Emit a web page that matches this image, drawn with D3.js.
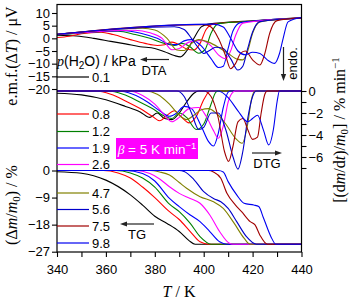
<!DOCTYPE html>
<html><head><meta charset="utf-8">
<script src="https://cdn.jsdelivr.net/npm/d3@7"></script>
<style>
body{margin:0;background:#fff}
svg text{font-family:"Liberation Sans",Arial,sans-serif;fill:#000}
.serif{font-family:"Liberation Serif","Times New Roman",serif}
</style></head><body>
<script>
// water vapour pressures (kPa) and line colours
var pressures = ['0.1','0.8','1.2','1.9','2.6','4.7','5.6','7.5','9.8'];
var colors = ['#000000','#ff0000','#008000','#0000ff','#ff00ff','#808000','#0000cc','#a00000','#0000f0'];

// DTA, e.m.f. / uV
var dta01 = [[340,1.2],[348,0.9],[355,0],[362,-1.2],[368,-2.2],[374,-3.3],[380,-4.0],[384,-5.3],[388,-6.8],[390.5,-7.3],[393,-5],[396,0],[399,4.5],[402,5.6],[420,6.9],[440,8.2]];
var dta08 = [[340,0.3],[345,0.8],[350,1.8],[358,2.4],[363,1.5],[370,-0.5],[376,-2],[381,-2.8],[384,-2.5],[387,-1.5],[390,-2.5],[393,-4.2],[396,-4.6],[398.5,-2],[401,3.5],[404,5.6],[420,6.8],[440,8.1]];
var dta12 = [[340,1.3],[365,2.8],[372,1.5],[378,0],[384,-2.0],[388,-2.8],[391,-2.0],[394,-3.0],[398,-5.9],[400.5,-4.5],[403,2],[406,5.8],[420,6.8],[440,8]];
var dta19 = [[340,1.4],[368,3.0],[375,1.8],[381,0],[386,-2.3],[389,-2.5],[392,-1.0],[395,-0.5],[399,-3],[403,-8],[406,-11.5],[408,-11],[410,-4],[412,3],[415,6.2],[440,8]];
var dta26 = [[340,1.5],[372,3.2],[378,2.2],[383,0],[387,-4.5],[390,-4.0],[394,-1.5],[399,-0.8],[403,-3],[406,-6.5],[409,-8],[411,-5],[413,1],[416,6],[440,8]];
var dta47 = [[340,1.6],[375,4],[380,3.3],[385,0],[389,-4.6],[392,-4.8],[395,-2],[398,-0.5],[402,-1.5],[406,-3.5],[410,-6],[414,-8.3],[416,-8.5],[418,-5],[420,2],[423,6.5],[440,8]];
var dta56 = [[340,1.6],[388,4.6],[392,3.5],[395,0],[398,-4],[400,-6],[402,-5],[405,-3.5],[408,-4],[411,-8],[414,-12.5],[416,-11],[418,-4],[420,2.5],[423,6.6],[440,8]];
var dta75 = [[340,1.6],[400,5.4],[403,4.5],[406,0],[409,-7],[411,-12],[413,-10],[415,-6],[417,-5],[420,-8.5],[423,-10.5],[425,-6],[427,2],[430,7],[440,8]];
var dta98 = [[340,1.6],[404,5.6],[408,4.5],[411,0],[414,-5],[417,-6.5],[420,-5.5],[423,-6],[426,-8.5],[429,-9.9],[431,-6],[432.5,0],[434.5,6.5],[440,8.2]];

// DTG, % min-1
var dtg01 = [[340,-0.2],[350,-0.35],[360,-0.8],[368,-1.4],[374,-1.9],[378,-2.4],[381,-2.0],[384,-2.5],[387,-2.6],[390,-2.0],[393,-1.0],[396,-0.2],[398,0],[440,0]];
var dtg08 = [[340,0],[356,0],[362,-0.3],[368,-0.9],[374,-1.6],[379,-2.3],[382,-2.7],[385,-2.2],[388,-1.8],[391,-2.4],[394,-2.9],[397,-2.3],[400,-0.8],[402,-0.1],[403,0],[440,0]];
var dtg12 = [[340,0],[361,0],[367,-0.3],[373,-0.9],[379,-1.6],[384,-2.3],[387,-2.5],[390,-2.0],[393,-2.4],[397,-3.5],[400,-3.0],[403,-1.2],[405,-0.1],[406,0],[440,0]];
var dtg19 = [[340,0],[365,0],[371,-0.3],[377,-1.0],[382,-1.8],[386,-2.3],[389,-2.0],[392,-1.4],[395,-1.6],[399,-3.2],[402,-4.6],[404,-5.0],[406,-3.8],[408,-1.5],[410,-0.1],[411,0],[440,0]];
var dtg26 = [[340,0],[369,0],[375,-0.4],[380,-1.2],[384,-2.2],[387,-2.8],[390,-2.4],[394,-1.6],[398,-1.5],[401,-2.3],[404,-3.6],[406,-4.3],[408,-3.2],[410,-1.0],[412,-0.1],[413,0],[440,0]];
var dtg47 = [[340,0],[376,0],[381,-0.3],[386,-1.2],[390,-2.2],[393,-2.6],[396,-2.2],[399,-1.7],[402,-1.6],[405,-2.0],[409,-3.0],[413,-4.3],[415.7,-4.75],[418,-3.0],[419.5,-0.8],[421,0],[440,0]];
var dtg56 = [[340,0],[389,0],[392,-0.5],[395,-2.0],[398,-3.5],[400,-3.3],[403,-2.0],[406,-2.0],[409,-3.5],[412,-6.0],[414,-7.1],[416,-5.5],[418,-2.5],[420,-0.5],[421.5,0],[440,0]];
var dtg75 = [[340,0],[400,0],[403,-0.5],[406,-2.5],[408.5,-5.5],[410.2,-6.4],[412,-5.0],[414,-2.8],[416,-2.5],[418,-3.5],[420,-4.4],[422,-4.2],[423.5,-2.0],[425,-0.3],[426,0],[440,0]];
var dtg98 = [[340,0],[406,0],[410,-0.6],[414,-1.8],[418,-2.8],[420,-2.5],[422,-2.2],[424.5,-3.6],[426.6,-4.9],[428.5,-3.5],[430,-1.0],[431,0],[440,0]];

// TG, mass change %
var tg01 = [[340,-0.4],[350,-0.9],[360,-3.2],[370,-8.1],[375,-11.5],[380,-15.2],[385,-17.6],[390,-20.3],[394,-23.3],[396.5,-24.5],[440,-24.5]];
var tg08 = [[340,0],[359,0],[365,-0.8],[370,-2.5],[375,-5.5],[380,-9],[386,-13.7],[390,-16.3],[394.5,-20.3],[398.5,-23.7],[402,-24.5],[440,-24.5]];
var tg12 = [[340,0],[364,0],[370,-0.8],[375,-2.5],[380,-5.5],[386,-11.2],[390,-13.7],[394.5,-17.6],[398.5,-22],[403,-24.5],[440,-24.5]];
var tg19 = [[340,0],[368,0],[375,-1],[380,-3.5],[386,-9.3],[390,-12],[394.5,-14.8],[398.5,-17],[402.5,-20.3],[406.5,-23.7],[409.5,-24.5],[440,-24.5]];
var tg26 = [[340,0],[372,0],[378,-1],[382,-2.8],[386,-5.4],[390,-7.6],[394.5,-9.3],[398.5,-10.9],[402.5,-14.8],[406.5,-20.3],[410.5,-24.2],[412,-24.5],[440,-24.5]];
var tg47 = [[340,0],[378,0],[382,-0.5],[386,-1.5],[390,-4],[393,-5.9],[398.5,-8.7],[404,-10.4],[408,-12.6],[412.5,-17.6],[416.5,-22.5],[419,-24.5],[440,-24.5]];
var tg56 = [[340,0],[390,0],[392,-0.3],[396,-3],[400,-7],[404,-9.3],[407,-10.4],[410,-12.6],[413.5,-17],[417.5,-22],[421.5,-24.5],[440,-24.5]];
var tg75 = [[340,0],[402,0],[404,-0.5],[407,-2.6],[409.5,-7.6],[413,-11.5],[415.5,-13.7],[419,-17],[421,-18.1],[423,-21.5],[426,-24.5],[440,-24.5]];
var tg98 = [[340,0],[406,0],[408,-0.5],[410,-3.7],[413.5,-8.1],[416.5,-10.9],[420.5,-11.5],[422.5,-12],[424.5,-15.9],[427.5,-22],[429.5,-24.5],[440,-24.5]];

var dtaSeries = [dta01,dta08,dta12,dta19,dta26,dta47,dta56,dta75,dta98];
var dtgSeries = [dtg01,dtg08,dtg12,dtg19,dtg26,dtg47,dtg56,dtg75,dtg98];
var tgSeries = [tg01,tg08,tg12,tg19,tg26,tg47,tg56,tg75,tg98];

var xTicks = [340,350,360,370,380,390,400,410,420,430,440];
var dtaTicks = [10,5,0,-5,-10,-15,-20];
var dtgTicks = [0,-1,-2,-3,-4,-5,-6,-7];
var tgTicks = [0,-9,-18,-27];

// legend row positions
var legendY = [77,114,131.5,148,164.5,193,209.5,226,243];

var svg = d3.select('body').append('svg').attr('width',352).attr('height',301);

var x = d3.scaleLinear().domain([340,440]).range([57,301.5]);
var yDTA = d3.scaleLinear().domain([-20,10]).range([89,13]);
var yDTG = d3.scaleLinear().domain([-6,0]).range([157,91]);
var yTG = d3.scaleLinear().domain([-27,0]).range([251.7,170.5]);

function drawSet(data, yScale){
  var line = d3.line().x(function(d){return x(d[0]);}).y(function(d){return yScale(d[1]);}).curve(d3.curveMonotoneX);
  svg.append('g').selectAll('path').data(data).enter().append('path')
    .attr('d',line).attr('fill','none')
    .attr('stroke',function(d,i){return colors[i];})
    .attr('stroke-width',1.1);
}
drawSet(dtaSeries,yDTA);
drawSet(dtgSeries,yDTG);
drawSet(tgSeries,yTG);

// frame
svg.append('rect').attr('x',57).attr('y',4.5).attr('width',244.5).attr('height',247.5)
  .attr('fill','none').attr('stroke','#000').attr('stroke-width',1.2);

function fmt(d){ return d<0 ? '\u2212'+(-d) : ''+d; }
function styleAxis(g){
  g.select('.domain').remove();
  g.selectAll('.tick line').attr('stroke','#000').attr('stroke-width',1.1);
  g.selectAll('.tick text').attr('font-size',13).style('font-family','"Liberation Sans",Arial,sans-serif');
}

svg.append('g').attr('transform','translate(0,252)')
  .call(d3.axisBottom(x).tickValues(xTicks).tickSize(5).tickPadding(8)
    .tickFormat(function(d){return d%20===0 ? d : '';}))
  .call(styleAxis);
svg.append('g').attr('transform','translate(57,0)')
  .call(d3.axisLeft(yDTA).tickValues(dtaTicks).tickSize(5).tickPadding(2).tickFormat(fmt))
  .call(styleAxis);
svg.append('g').attr('transform','translate(57,0)')
  .call(d3.axisLeft(yTG).tickValues(tgTicks).tickSize(5).tickPadding(2).tickFormat(fmt))
  .call(styleAxis);
svg.append('g').attr('transform','translate(301.5,0)')
  .call(d3.axisRight(yDTG).tickValues(dtgTicks).tickSize(5).tickPadding(2)
    .tickFormat(function(d){return d%2===0 ? fmt(d) : '';}))
  .call(styleAxis);

// axis titles
var t1 = svg.append('text').attr('class','serif').attr('font-size',16)
  .attr('text-anchor','middle').attr('transform','translate(17,56) rotate(-90)');
t1.append('tspan').text('e.m.f.(\u0394');
t1.append('tspan').attr('font-style','italic').text('T');
t1.append('tspan').text(') / \u03bcV');

var t2 = svg.append('text').attr('class','serif').attr('font-size',16)
  .attr('text-anchor','middle').attr('transform','translate(17,205) rotate(-90)');
t2.append('tspan').text('(\u0394');
t2.append('tspan').attr('font-style','italic').text('m');
t2.append('tspan').text('/');
t2.append('tspan').attr('font-style','italic').text('m');
t2.append('tspan').attr('font-size',11).attr('dy',3).text('0');
t2.append('tspan').attr('dy',-3).text(') / %');

var t3 = svg.append('text').attr('class','serif').attr('font-size',16)
  .attr('text-anchor','middle').attr('transform','translate(345,130) rotate(-90)');
t3.append('tspan').text('[(d');
t3.append('tspan').attr('font-style','italic').text('m');
t3.append('tspan').text('/d');
t3.append('tspan').attr('font-style','italic').text('t');
t3.append('tspan').text(')/');
t3.append('tspan').attr('font-style','italic').text('m');
t3.append('tspan').attr('font-size',11).attr('dy',3).text('0');
t3.append('tspan').attr('dy',-3).text('] / % min');
t3.append('tspan').attr('font-size',11).attr('dy',-6).text('\u22121');

var t4 = svg.append('text').attr('class','serif').attr('font-size',16)
  .attr('text-anchor','middle').attr('x',179).attr('y',297);
t4.append('tspan').attr('font-style','italic').text('T');
t4.append('tspan').text(' / K');

// legend
var lg = svg.append('text').attr('x',57).attr('y',65.5).attr('font-size',14);
lg.append('tspan').attr('class','serif').attr('font-style','italic').style('font-family','"Liberation Serif",serif').text('p');
lg.append('tspan').text('(H');
lg.append('tspan').attr('font-size',10).attr('dy',3).text('2');
lg.append('tspan').attr('dy',-3).text('O) / kPa');

var items = svg.append('g').selectAll('g').data(pressures).enter().append('g');
items.append('line').attr('x1',57).attr('x2',89)
  .attr('y1',function(d,i){return legendY[i];}).attr('y2',function(d,i){return legendY[i];})
  .attr('stroke',function(d,i){return colors[i];}).attr('stroke-width',1.2);
items.append('text').attr('x',92).attr('y',function(d,i){return legendY[i]+4.6;})
  .attr('font-size',13).text(function(d){return d;});

// heating-rate label
svg.append('rect').attr('x',116).attr('y',138).attr('width',82).attr('height',21).attr('fill','#ff00ff');
var hb = svg.append('text').attr('x',157).attr('y',154).attr('text-anchor','middle').attr('font-size',13.5);
hb.append('tspan').style('font-family','"Liberation Serif",serif').attr('font-style','italic').attr('fill','#fff').text('\u03b2');
hb.append('tspan').attr('fill','#fff').text(' = 5 K min');
hb.append('tspan').attr('fill','#fff').attr('font-size',9.5).attr('dy',-5).text('\u22121');

// arrows
function arrow(x1,y1,x2,y2){
  var a = Math.atan2(y2-y1,x2-x1), L = 7, W = 2.6;
  var bx = x2 - L*Math.cos(a), by = y2 - L*Math.sin(a);
  svg.append('line').attr('x1',x1).attr('y1',y1).attr('x2',bx).attr('y2',by)
    .attr('stroke','#222').attr('stroke-width',1.2);
  svg.append('path').attr('fill','#222')
    .attr('d','M'+x2+','+y2+'L'+(bx+W*Math.sin(a))+','+(by-W*Math.cos(a))+'L'+(bx-W*Math.sin(a))+','+(by+W*Math.cos(a))+'Z');
}
arrow(169,59.5,140,59.5);
svg.append('text').attr('x',154).attr('y',74.5).attr('text-anchor','middle').attr('font-size',13).text('DTA');

arrow(283.5,47,283.5,81);
svg.append('text').attr('transform','translate(297,63.5) rotate(-90)').attr('text-anchor','middle').attr('font-size',13).text('endo.');

arrow(252,153,282,153);
svg.append('text').attr('x',267).attr('y',168).attr('text-anchor','middle').attr('font-size',13).text('DTG');

arrow(154,224,120,224);
svg.append('text').attr('x',137).attr('y',239).attr('text-anchor','middle').attr('font-size',13).text('TG');
</script></body></html>
